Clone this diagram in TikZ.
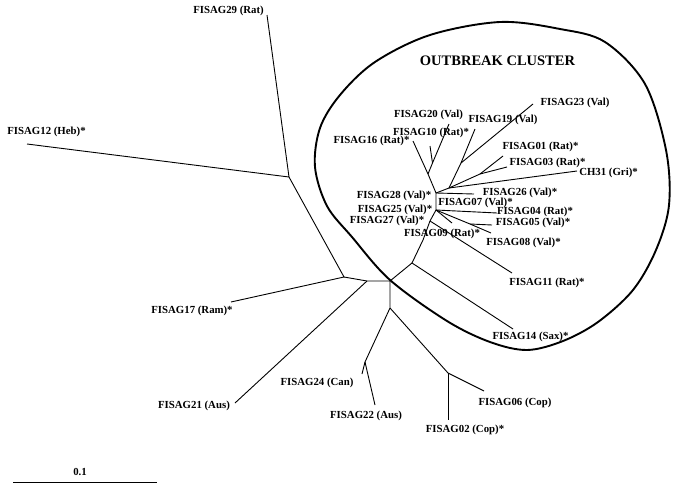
\documentclass[tikz,border=0pt]{standalone}
\usepackage{fontspec}
\setmainfont{Liberation Serif}
\begin{document}
\begin{tikzpicture}[x=1pt,y=-1pt,
  br/.style={line width=0.9pt},
  lab/.style={font=\fontsize{10.8}{12}\selectfont\bfseries, inner sep=0pt, anchor=center},
  big/.style={font=\fontsize{14.5}{16}\selectfont\bfseries, inner sep=0pt, anchor=center},
  outline/.style={line width=1.9pt}]
\useasboundingbox (0,0) rectangle (675,490);
% internal nodes
\coordinate (A) at (289,177);
\coordinate (B) at (344,277);
\coordinate (J) at (367,281);
\coordinate (C) at (390,281);
\coordinate (K) at (390,308);
\coordinate (L) at (365,362);
\coordinate (R) at (448,373);
\coordinate (D) at (412,263);
\coordinate (Db) at (423,240);
\coordinate (Q) at (430,221);
\coordinate (M2) at (436,210);
\coordinate (M) at (436,193);
\coordinate (P) at (470,224);
\coordinate (N1) at (449,188);
\coordinate (I) at (480,174);
\coordinate (H) at (461,163);
\coordinate (F) at (428,174);
\coordinate (G) at (432.5,163);
% leaves
\coordinate (l29) at (267,15);
\coordinate (l12) at (27,144);
\coordinate (l17) at (231,302);
\coordinate (l21) at (235,403);
\coordinate (l24) at (362,374);
\coordinate (l22) at (375,405);
\coordinate (l06) at (484,391);
\coordinate (l02) at (448,420);
\coordinate (l14) at (513,329);
\coordinate (l11) at (512,273);
\coordinate (l04) at (497,213);
\coordinate (l08) at (491,233);
\coordinate (l05) at (492,225);
\coordinate (l09) at (452,223);
\coordinate (l26) at (474,194);
\coordinate (l31) at (577,171);
\coordinate (l01) at (503,156);
\coordinate (l03) at (507,167);
\coordinate (l19) at (475,129);
\coordinate (l23) at (533,104);
\coordinate (l16) at (413,141);
\coordinate (l20) at (449,124);
\coordinate (l10) at (430,146);
% branches
\draw[br] (l29) -- (A) -- (l12);
\draw[br] (A) -- (B) -- (l17);
\draw[br] (B) -- (J) -- (C);
\draw[br] (J) -- (l21);
\draw[br] (C) -- (K) -- (L) -- (l24);
\draw[br] (L) -- (l22);
\draw[br] (K) -- (R) -- (l06);
\draw[br] (R) -- (l02);
\draw[br] (C) -- (D) -- (l14);
\draw[br] (D) -- (Db) -- (Q) -- (M2) -- (M);
\draw[br] (Q) -- (l11);
\draw[br] (M2) -- (l04);
\draw[br] (M2) -- (P) -- (l08);
\draw[br] (P) -- (l05);
\draw[br] (M2) -- (l09);
\draw[br] (M) -- (l26);
\draw[br] (M) -- (N1) -- (l31);
\draw[br] (N1) -- (I) -- (l01);
\draw[br] (I) -- (l03);
\draw[br] (N1) -- (H) -- (l19);
\draw[br] (H) -- (l23);
\draw[br] (M) -- (F) -- (l16);
\draw[br] (F) -- (G) -- (l20);
\draw[br] (G) -- (l10);
% cluster outline
\draw[outline] plot[smooth cycle, tension=0.55] coordinates {
 (500,22) (560,29) (605,42) (645,84) (666,150) (669,205) (656,250) (633,290)
 (598,322) (563,341) (527,350) (490,342) (447,321) (390,280) (352,237)
 (327,206) (315,167) (320,128) (340,95) (375,62) (430,35)};
% labels
\node[big] (title) at (497.5,61) {OUTBREAK CLUSTER};
\node[lab] (t29) at (228.5,11) {FISAG29 (Rat)};
\node[lab] (t12) at (46.5,132) {FISAG12 (Heb)*};
\node[lab] (t23) at (575,103) {FISAG23 (Val)};
\node[lab] (t20) at (428.5,115) {FISAG20 (Val)};
\node[lab] (t19) at (503,120) {FISAG19 (Val)};
\node[lab] (t10) at (431,133) {FISAG10 (Rat)*};
\node[lab] (t16) at (371.5,141) {FISAG16 (Rat)*};
\node[lab] (t01) at (540.5,147) {FISAG01 (Rat)*};
\node[lab] (t03) at (547.5,163) {FISAG03 (Rat)*};
\node[lab] (t31) at (608.5,173) {CH31 (Gri)*};
\node[lab] (t26) at (520,193) {FISAG26 (Val)*};
\node[lab] (t28) at (394,196) {FISAG28 (Val)*};
\node[lab] (t07) at (475.5,203) {FISAG07 (Val)*};
\node[lab] (t25) at (395,210) {FISAG25 (Val)*};
\node[lab] (t04) at (535,212) {FISAG04 (Rat)*};
\node[lab] (t27) at (387,221) {FISAG27 (Val)*};
\node[lab] (t05) at (533,223) {FISAG05 (Val)*};
\node[lab] (t09) at (442,234) {FISAG09 (Rat)*};
\node[lab] (t08) at (523.5,243) {FISAG08 (Val)*};
\node[lab] (t11) at (547,283) {FISAG11 (Rat)*};
\node[lab] (t14) at (530.5,337) {FISAG14 (Sax)*};
\node[lab] (t17) at (192,311) {FISAG17 (Ram)*};
\node[lab] (t24) at (317,383) {FISAG24 (Can)};
\node[lab] (t21) at (194,406) {FISAG21 (Aus)};
\node[lab] (t22) at (366,416) {FISAG22 (Aus)};
\node[lab] (t06) at (515,403) {FISAG06 (Cop)};
\node[lab] (t02) at (465,430) {FISAG02 (Cop)*};
% scale bar
\node[lab] (sc) at (80,472) {0.1};
\coordinate (s1) at (13,482);
\coordinate (s2) at (157,482);
\draw[line width=1pt] (s1) -- (s2);
\end{tikzpicture}
\end{document}
